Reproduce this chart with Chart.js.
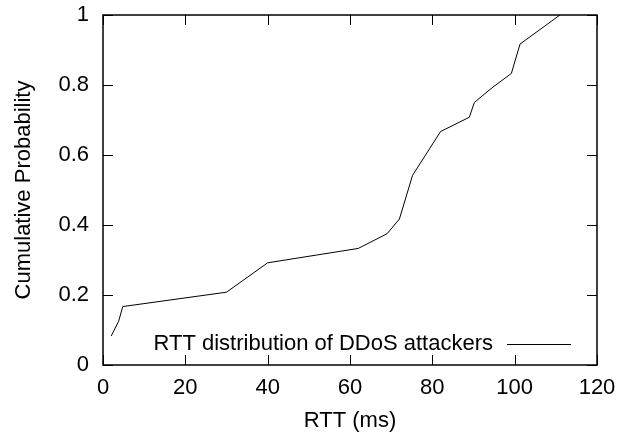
<!DOCTYPE html>
<html>
<head>
<meta charset="utf-8">
<script src="https://cdn.jsdelivr.net/npm/chart.js@4.4.1/dist/chart.umd.min.js"></script>
<style>
  html, body { margin: 0; padding: 0; background: #fff; }
  #wrap { width: 626px; height: 436px; }
</style>
</head>
<body>
<div id="wrap"><canvas id="cdf-chart" width="626" height="436"></canvas></div>
<script>
// RTT CDF of DDoS attackers
const rttMs = [2, 3.8, 4.8, 30, 40, 62, 69, 72, 75.2, 82, 89, 90.2, 94.5, 99.2, 101.3, 111];
const cumProb = [0.083, 0.125, 0.167, 0.208, 0.292, 0.333, 0.375, 0.417, 0.542, 0.667, 0.708, 0.75, 0.792, 0.833, 0.917, 1.0];
const xTicks = [0, 20, 40, 60, 80, 100, 120];
const yTicks = [0, 0.2, 0.4, 0.6, 0.8, 1];
const seriesLabel = 'RTT distribution of DDoS attackers';

const FONT = '"Liberation Sans", Arial, Helvetica, sans-serif';
Chart.defaults.font.family = FONT;
Chart.defaults.color = '#000';

// gnuplot-like frame: border, inward ticks on all four sides, key at bottom right
const framePlugin = {
    id: 'gnuFrame',
    afterDraw(chart) {
        const { ctx, chartArea: a, scales: { x, y } } = chart;
        const tl = 10;
        ctx.save();
        ctx.strokeStyle = '#000';
        ctx.lineWidth = 1;
        ctx.beginPath();
        x.ticks.forEach(t => {
            const px = Math.round(x.getPixelForValue(t.value)) + 0.5;
            ctx.moveTo(px, a.bottom); ctx.lineTo(px, a.bottom - tl);
            ctx.moveTo(px, a.top); ctx.lineTo(px, a.top + tl);
        });
        y.ticks.forEach(t => {
            const py = Math.round(y.getPixelForValue(t.value)) + 0.5;
            ctx.moveTo(a.left, py); ctx.lineTo(a.left + tl, py);
            ctx.moveTo(a.right, py); ctx.lineTo(a.right - tl, py);
        });
        ctx.stroke();

        ctx.lineWidth = 1.5;
        ctx.strokeRect(a.left, a.top, a.right - a.left, a.bottom - a.top);

        // key
        const ds = chart.data.datasets[0];
        const ky = a.bottom - 21;
        ctx.font = '22px ' + FONT;
        ctx.fillStyle = '#000';
        ctx.textAlign = 'right';
        ctx.textBaseline = 'middle';
        ctx.fillText(ds.label, a.right - 104, ky);
        ctx.lineWidth = ds.borderWidth;
        ctx.strokeStyle = ds.borderColor;
        ctx.beginPath();
        ctx.moveTo(a.right - 90, Math.round(ky) + 0.5);
        ctx.lineTo(a.right - 26, Math.round(ky) + 0.5);
        ctx.stroke();
        ctx.restore();
    }
};

new Chart(document.getElementById('cdf-chart'), {
    type: 'scatter',
    data: {
        datasets: [{
            label: seriesLabel,
            data: rttMs.map((v, i) => ({ x: v, y: cumProb[i] })),
            showLine: true,
            borderColor: '#000',
            borderWidth: 1,
            pointRadius: 0,
            tension: 0,
            fill: false
        }]
    },
    options: {
        responsive: false,
        animation: false,
        devicePixelRatio: 1,
        layout: { padding: { top: 15, right: 29, left: 0, bottom: 0 } },
        plugins: {
            legend: { display: false },
            tooltip: { enabled: false }
        },
        scales: {
            x: {
                type: 'linear',
                min: 0,
                max: 120,
                afterBuildTicks: s => { s.ticks = xTicks.map(v => ({ value: v })); },
                afterFit: s => { s.height = 71; s.paddingLeft = 0; s.paddingRight = 0; },
                grid: { display: false, drawTicks: false },
                border: { display: false },
                ticks: {
                    padding: 10,
                    maxRotation: 0,
                    autoSkip: false,
                    font: { size: 22 },
                    color: '#000',
                    callback: v => String(v)
                },
                title: {
                    display: true,
                    text: 'RTT (ms)',
                    font: { size: 22 },
                    color: '#000',
                    padding: { top: 0, bottom: 2 }
                }
            },
            y: {
                type: 'linear',
                min: 0,
                max: 1,
                afterBuildTicks: s => { s.ticks = yTicks.map(v => ({ value: v })); },
                afterFit: s => { s.width = 103; s.paddingTop = 0; s.paddingBottom = 0; },
                grid: { display: false, drawTicks: false },
                border: { display: false },
                ticks: {
                    padding: 14,
                    autoSkip: false,
                    font: { size: 22 },
                    color: '#000',
                    callback: v => String(v)
                },
                title: {
                    display: true,
                    text: 'Cumulative Probability',
                    font: { size: 22 },
                    color: '#000',
                    padding: { top: 11, bottom: 0 }
                }
            }
        }
    },
    plugins: [framePlugin]
});
</script>
</body>
</html>
